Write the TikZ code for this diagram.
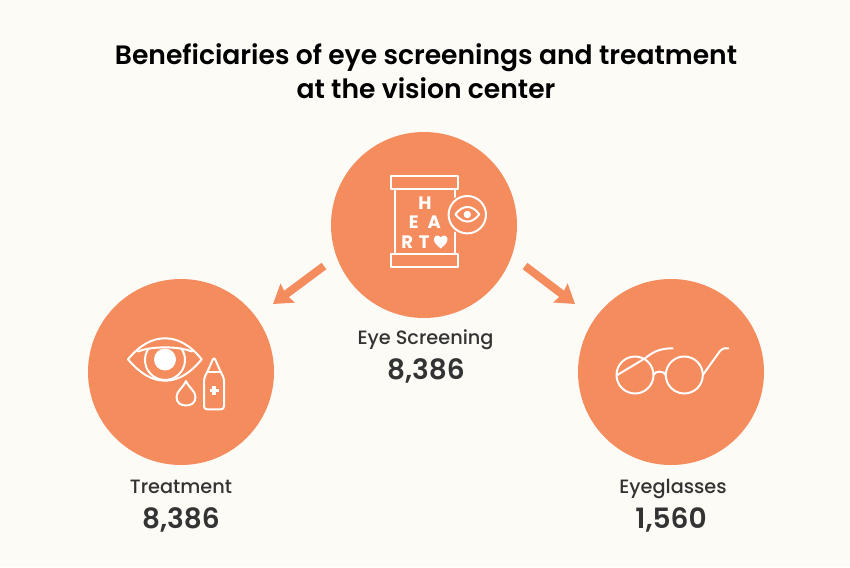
\documentclass[tikz,border=0pt]{standalone}
\usepackage{fontspec}
\setmainfont{Poppins}[BoldFont={Poppins SemiBold}]
\newfontfamily\medfont{Poppins Medium}
\newfontfamily\heavyfont{Poppins Bold}
\usetikzlibrary{arrows.meta,positioning,calc}
\definecolor{paper}{HTML}{FDFBF6}
\definecolor{coral}{HTML}{F58C5E}
\definecolor{ink}{HTML}{333333}
\tikzset{
  disc/.style={circle, fill=coral, minimum size=186pt, inner sep=0pt},
  flow/.style={-{Stealth[inset=2pt,length=18pt,width=23pt]}, coral, line width=8pt},
  icon/.style={white, line width=2pt, line join=round, line cap=round},
  chart/.style={white, font=\heavyfont\fontsize{18}{18}\selectfont, inner sep=0pt},
  caption/.style={ink, anchor=base, font=\medfont\fontsize{19.3}{20}\selectfont, inner sep=0pt},
  amount/.style={ink, anchor=base, font=\bfseries\fontsize{28}{28}\selectfont, inner sep=0pt},
}
\begin{document}
\begin{tikzpicture}[x=1pt, y=-1pt]
  % фон
  \fill[paper] (0,0) rectangle (850,567);
  \useasboundingbox (0,0) rectangle (850,567);

  % заголовок
  \node[font=\bfseries\fontsize{26.6}{34}\selectfont, align=center, inner sep=0pt, black] (title) at (426,71)
    {Beneficiaries of eye screenings and treatment\\at the vision center};

  % круги
  \node[disc] (screening) at (424,225) {};
  \node[disc] (treatment) at (181,372) {};
  \node[disc] (glasses) at (671,372) {};

  % стрелки
  \coordinate (leftstart) at (324,266);
  \coordinate (lefttip) at (273,304);
  \coordinate (rightstart) at (525,266);
  \coordinate (righttip) at (575,304);
  \draw[flow] (leftstart) -- (lefttip);
  \draw[flow] (rightstart) -- (righttip);

  % таблица
  \draw[icon] (391.3,176) rectangle (458.3,189.3);
  \draw[icon] (391.3,254) rectangle (458.3,266.7);
  \draw[icon] (394.7,189.3) -- (394.7,254);
  \draw[icon] (455,189.3) -- (455,197);
  \draw[icon] (455,232.5) -- (455,254);
  \draw[icon] (467.3,214.7) circle (18.7);
  \draw[icon] (455.3,214.3) .. controls (463,204.5) and (472,204.5) .. (479.3,214.3)
    .. controls (472,224) and (463,224) .. (455.3,214.3) -- cycle;
  \fill[white] (467.3,214.5) circle (3.7);
  \node[chart] (letterh) at (425,203.3) {H};
  \node[chart] (lettere) at (413.7,221.7) {E};
  \node[chart] (lettera) at (434.3,221.7) {A};
  \node[chart] (letterr) at (407.3,241.7) {R};
  \node[chart] (lettert) at (424.3,241.7) {T};
  \fill[white] (440.7,248.5) .. controls (436,244.5) and (433.5,242) .. (434,238.5)
    .. controls (434.5,235) and (439,234.5) .. (440.7,237.5)
    .. controls (442.4,234.5) and (446.9,235) .. (447.4,238.5)
    .. controls (447.9,242) and (445.4,244.5) .. (440.7,248.5) -- cycle;

  % глаз и капли
  \draw[icon] (128,359.3) .. controls (140,345) and (152,338.3) .. (165,338.3)
    .. controls (178,338.3) and (190,345) .. (201.7,359.3)
    .. controls (190,373.5) and (178,380.7) .. (165,380.7)
    .. controls (152,380.7) and (140,373.5) .. (128,359.3) -- cycle;
  \draw[icon] (138,351.5) .. controls (152,346) and (178,346) .. (192,351.5);
  \draw[icon] (148.6,348.5) arc[start angle=215, end angle=-35, radius=20];
  \fill[white] (165,359.5) circle (11);
  \draw[icon] (186,381) .. controls (183,388) and (176.5,391) .. (176.5,397)
    .. controls (176.5,403) and (181,405.5) .. (186,405.5)
    .. controls (191,405.5) and (195.5,403) .. (195.5,397)
    .. controls (195.5,391) and (189,388) .. (186,381) -- cycle;
  \draw[icon, rounded corners=3pt] (214,356.7) -- (207.3,372) -- (204,378) -- (204,409.3) -- (224,409.3) -- (224,378) -- (220.7,372) -- cycle;
  \draw[icon] (207.3,372) -- (220.7,372);
  \fill[white] (212.3,386.2) rectangle (215.7,395.2);
  \fill[white] (209.5,389) rectangle (218.5,392.4);

  % очки
  \draw[icon] (635,375) circle (18.5);
  \draw[icon] (684.3,375) circle (18.5);
  \draw[icon] (653.5,375) .. controls (655,370.5) and (664,370.5) .. (665.8,375);
  \draw[icon] (617.3,375) -- (645,358.3) .. controls (652,353) and (658,348.3) .. (672.7,348.3);
  \draw[icon] (702.8,375) -- (720,351) .. controls (722,348.5) and (724,348) .. (728.3,348.3);

  % подписи
  \node[caption] (screeninglabel) at (425.5,344) {Eye Screening};
  \node[amount] (screeningvalue) at (426,379) {8,386};
  \node[caption] (treatmentlabel) at (181,493) {Treatment};
  \node[amount] (treatmentvalue) at (181,528) {8,386};
  \node[caption] (glasseslabel) at (673,493) {Eyeglasses};
  \node[amount] (glassesvalue) at (671,528) {1,560};
\end{tikzpicture}
\end{document}
